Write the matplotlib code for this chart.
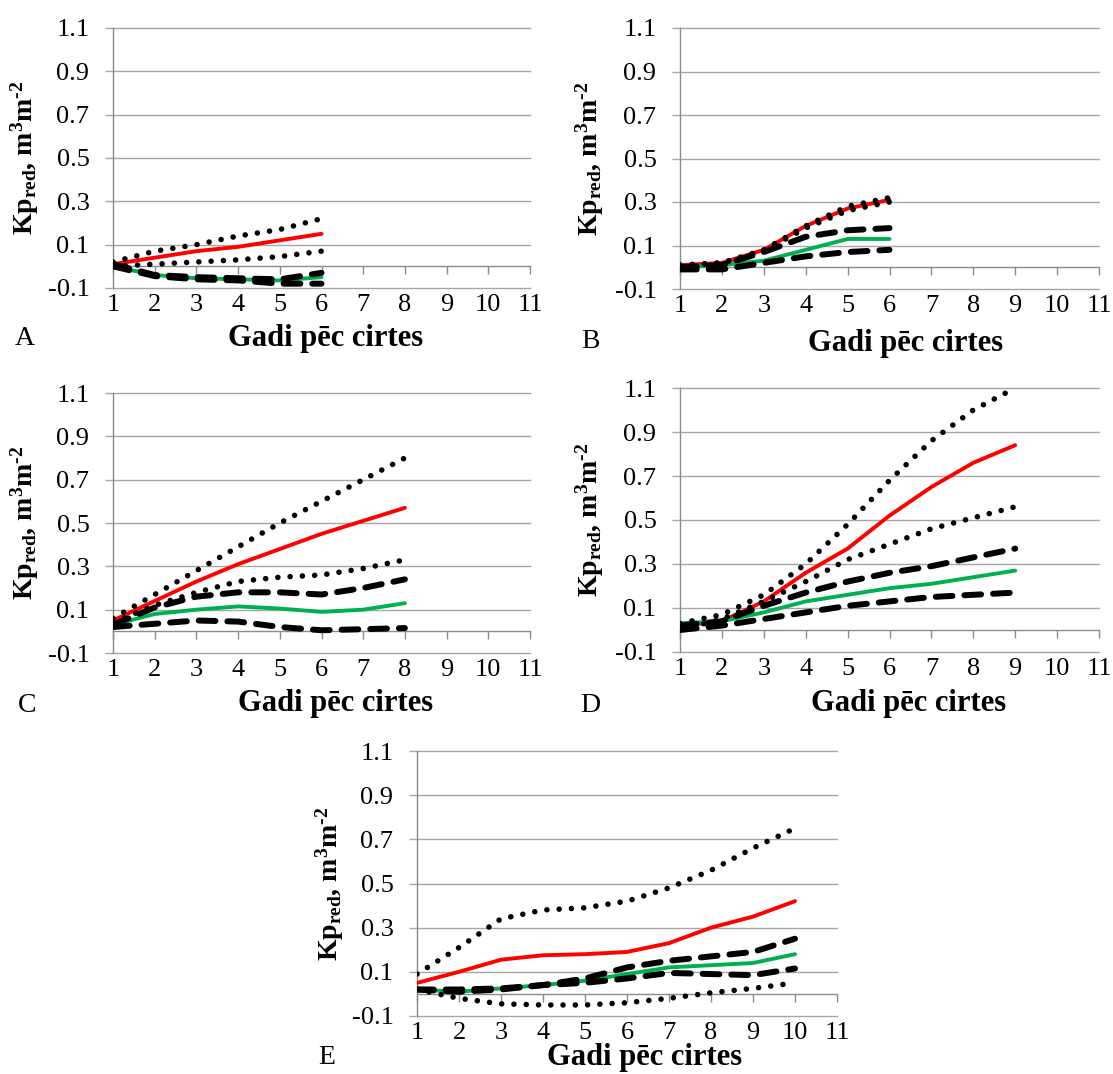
import matplotlib
matplotlib.use("Agg")
import matplotlib.pyplot as plt

plt.rcParams["font.family"] = ["Liberation Serif", "DejaVu Serif"]
plt.rcParams["mathtext.fontset"] = "custom"
plt.rcParams["mathtext.rm"] = "Liberation Serif:bold"
plt.rcParams["mathtext.bf"] = "Liberation Serif:bold"
plt.rcParams["mathtext.it"] = "Liberation Serif:italic"

# --- data ---
years_A = [1, 2, 3, 4, 5, 6]
A_red = [0.01, 0.04, 0.07, 0.09, 0.12, 0.15]
A_green = [0.0, -0.04, -0.055, -0.06, -0.065, -0.05]
A_dash_hi = [0.01, -0.04, -0.05, -0.055, -0.06, -0.03]
A_dash_lo = [0.0, -0.045, -0.06, -0.065, -0.08, -0.08]
A_dot_hi = [0.02, 0.07, 0.10, 0.14, 0.17, 0.22]
A_dot_lo = [0.0, 0.01, 0.02, 0.03, 0.045, 0.07]

years_B = [1, 2, 3, 4, 5, 6]
B_red = [0.01, 0.02, 0.08, 0.19, 0.27, 0.31]
B_green = [0.0, 0.01, 0.03, 0.08, 0.13, 0.13]
B_dash_hi = [0.0, 0.01, 0.07, 0.14, 0.17, 0.18]
B_dash_lo = [-0.01, -0.01, 0.02, 0.05, 0.07, 0.08]
B_dot_hi = [0.01, 0.02, 0.08, 0.19, 0.28, 0.32]
B_dot_lo = [0.01, 0.02, 0.075, 0.18, 0.26, 0.30]

years_C = [1, 2, 3, 4, 5, 6, 7, 8]
C_red = [0.05, 0.14, 0.23, 0.31, 0.38, 0.45, 0.51, 0.57]
C_green = [0.03, 0.08, 0.10, 0.115, 0.105, 0.09, 0.10, 0.13]
C_dash_hi = [0.03, 0.11, 0.16, 0.18, 0.18, 0.17, 0.20, 0.24]
C_dash_lo = [0.02, 0.035, 0.05, 0.045, 0.02, 0.005, 0.01, 0.015]
C_dot_hi = [0.06, 0.17, 0.28, 0.39, 0.50, 0.60, 0.70, 0.80]
C_dot_lo = [0.04, 0.12, 0.18, 0.23, 0.25, 0.26, 0.29, 0.33]

years_D = [1, 2, 3, 4, 5, 6, 7, 8, 9]
D_red = [0.02, 0.04, 0.13, 0.26, 0.37, 0.52, 0.65, 0.76, 0.84]
D_green = [0.03, 0.04, 0.08, 0.13, 0.16, 0.19, 0.21, 0.24, 0.27]
D_dash_hi = [0.02, 0.04, 0.11, 0.17, 0.22, 0.26, 0.29, 0.33, 0.37]
D_dash_lo = [0.0, 0.02, 0.05, 0.08, 0.11, 0.13, 0.15, 0.16, 0.17]
D_dot_hi = [0.03, 0.07, 0.16, 0.30, 0.48, 0.68, 0.86, 1.0, 1.1]
D_dot_lo = [0.0, 0.05, 0.13, 0.22, 0.32, 0.39, 0.46, 0.51, 0.56]

years_E = [1, 2, 3, 4, 5, 6, 7, 8, 9, 10]
E_red = [0.05, 0.10, 0.155, 0.175, 0.18, 0.19, 0.23, 0.30, 0.35, 0.42]
E_green = [0.02, 0.01, 0.025, 0.04, 0.06, 0.09, 0.12, 0.13, 0.14, 0.18]
E_dash_hi = [0.02, 0.02, 0.025, 0.04, 0.07, 0.12, 0.15, 0.17, 0.19, 0.25]
E_dash_lo = [0.02, 0.01, 0.02, 0.04, 0.05, 0.07, 0.095, 0.09, 0.085, 0.115]
E_dot_hi = [0.09, 0.21, 0.34, 0.38, 0.39, 0.42, 0.48, 0.56, 0.66, 0.75]
E_dot_lo = [0.02, -0.02, -0.045, -0.05, -0.05, -0.04, -0.02, 0.005, 0.025, 0.05]

x_ticks = list(range(1, 12))
y_ticks = [-0.1, 0.1, 0.3, 0.5, 0.7, 0.9, 1.1]
y_ticklabels = ["-0.1", "0.1", "0.3", "0.5", "0.7", "0.9", "1.1"]

W, H = 1113, 1074
fig = plt.figure(figsize=(W / 100, H / 100), dpi=100)

GRID = "#a6a6a6"
AXIS = "#8c8c8c"
ylab = r"Kp$_{\mathbf{red}}$, m$^{\mathbf{3}}$m$^{\text{-}\mathbf{2}}$"


def panel(rect, letter, letter_xy, xlab_xy, ylab_x, years, red, green,
          dash_hi, dash_lo, dot_hi, dot_lo):
    left, right, top, bottom = rect
    ax = fig.add_axes([left / W, 1 - bottom / H, (right - left) / W, (bottom - top) / H])
    ax.set_xlim(1, 11)
    ax.set_ylim(-0.1, 1.1)
    ax.set_facecolor("none")

    for s in ["top", "right"]:
        ax.spines[s].set_visible(False)
    ax.spines["left"].set_color(AXIS)
    ax.spines["left"].set_linewidth(1.0)
    ax.spines["bottom"].set_position(("data", 0))
    ax.spines["bottom"].set_color(AXIS)
    ax.spines["bottom"].set_linewidth(1.0)

    ax.set_yticks(y_ticks)
    ax.set_yticklabels(y_ticklabels)
    ax.tick_params(axis="y", direction="out", length=6, width=1.0, color=GRID,
                   labelsize=19, pad=11)
    ax.set_xticks(x_ticks)
    ax.tick_params(axis="x", direction="out", length=6, width=1.0, color=AXIS,
                   labelbottom=False)
    ax.yaxis.grid(True, color=GRID, linewidth=1.0)
    for gl in ax.get_ygridlines():
        gl.set_clip_on(False)

    sec = ax.secondary_xaxis(0.0)
    sec.set_xticks(x_ticks)
    sec.set_xticklabels([str(v) for v in x_ticks])
    sec.tick_params(length=0, labelsize=19, pad=4)
    sec.spines["bottom"].set_visible(False)

    ax.plot(years, red, color="#ff0000", lw=2.8, solid_capstyle="round", zorder=3)
    ax.plot(years, green, color="#00b050", lw=2.8, solid_capstyle="round", zorder=3)
    for y in (dash_hi, dash_lo):
        ax.plot(years, y, color="black", lw=4.3, linestyle=(0, (2.8, 2.0)),
                dash_capstyle="round", zorder=4)
    for y in (dot_hi, dot_lo):
        ax.plot(years, y, color="black", lw=4.0, linestyle=(0, (0.01, 2.2)),
                dash_capstyle="round", zorder=5)

    fig.text(letter_xy[0] / W, 1 - letter_xy[1] / H, letter, fontsize=20,
             ha="center", va="center")
    fig.text(xlab_xy[0] / W, 1 - xlab_xy[1] / H, "Gadi pēc cirtes", fontsize=22,
             fontweight="bold", ha="center", va="center")
    fig.text(ylab_x / W, 1 - (top + bottom) / 2 / H, ylab, fontsize=20,
             fontweight="bold", rotation=90, ha="center", va="center")
    return ax


panel((113, 530, 28, 288), "A", (25, 338), (326, 338), 25, years_A,
      A_red, A_green, A_dash_hi, A_dash_lo, A_dot_hi, A_dot_lo)
panel((680, 1099, 28, 289), "B", (590, 341), (906, 343), 590, years_B,
      B_red, B_green, B_dash_hi, B_dash_lo, B_dot_hi, B_dot_lo)
panel((113, 530, 393, 653), "C", (27, 705), (336, 703), 25, years_C,
      C_red, C_green, C_dash_hi, C_dash_lo, C_dot_hi, C_dot_lo)
panel((680, 1099, 388, 652), "D", (590, 705), (909, 703), 590, years_D,
      D_red, D_green, D_dash_hi, D_dash_lo, D_dot_hi, D_dot_lo)
panel((417, 837, 751, 1016), "E", (327, 1058), (645, 1058), 330, years_E,
      E_red, E_green, E_dash_hi, E_dash_lo, E_dot_hi, E_dot_lo)

fig.savefig("out.png", dpi=100, facecolor="white")
